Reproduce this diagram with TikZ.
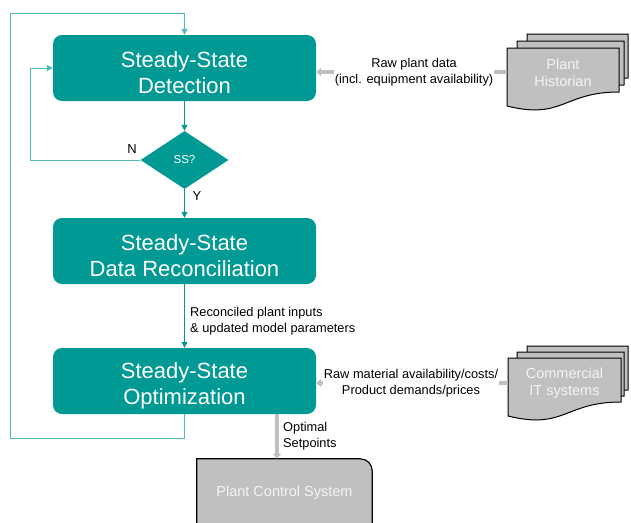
\documentclass[tikz,border=0pt]{standalone}
\usepackage{fontspec}
\setmainfont{Liberation Sans}
\usetikzlibrary{shapes.geometric,arrows.meta,backgrounds}
\definecolor{teala}{RGB}{0,153,148}
\definecolor{tealb}{RGB}{80,188,183}
\definecolor{grarrow}{RGB}{191,191,191}
\definecolor{docfill}{RGB}{192,192,192}
\definecolor{doctext}{RGB}{244,244,244}
\newcommand\docshape[3]{\filldraw[docstyle] (#1,#2) -- ({#1+#3},#2) -- ({#1+#3},{#2+44}) .. controls ({#1+#3*0.5},{#2+44}) and ({#1+#3*0.5},{#2+72}) .. (#1,{#2+58}) -- cycle;}
\newcommand\boxstrut{\rule{0pt}{26pt}}
\begin{document}
\begin{tikzpicture}[x=1pt,y=-1pt,
  mainbox/.style={rectangle, rounded corners=9pt, fill=teala, text=white, minimum width=263pt, minimum height=66pt, align=center, font=\fontsize{22}{26}\selectfont, inner sep=0pt},
  dec/.style={diamond, fill=teala, text=white, minimum width=88pt, minimum height=58pt, inner sep=0pt, font=\fontsize{11.5}{13}\selectfont},
  flow/.style={draw=teala, line width=1pt, -{Triangle[length=6pt,width=6pt]}},
  looparrow/.style={draw=tealb, line width=1pt, -{Triangle[length=6pt,width=6pt]}},
  grayarrow/.style={draw=grarrow, line width=4pt, -{Triangle[length=5pt,width=8pt]}},
  lbl/.style={font=\fontsize{12.8}{16}\selectfont, text=black, inner sep=1pt},
  yn/.style={font=\fontsize{13}{15}\selectfont, text=black, inner sep=0pt},
  doctxt/.style={text=doctext, font=\fontsize{14.5}{17}\selectfont, align=center, inner sep=0pt},
  docstyle/.style={fill=docfill, draw=black, line width=1pt}]
\useasboundingbox (0,0) rectangle (631,522);

% main nodes
\node[mainbox] (det) at (184.5,68) {\boxstrut Steady-State\\Detection};
\node[dec] (ss) at (184.5,160) {SS?};
\node[mainbox] (rec) at (184.5,251) {\boxstrut Steady-State\\Data Reconciliation};
\node[mainbox] (opt) at (184.5,381) {\boxstrut Steady-State\\Optimization};

% loops
\coordinate (l1) at (10,438);
\coordinate (l2) at (10,13);
\coordinate (l3) at (184.5,13);
\draw[looparrow] (opt.south) |- (l1) -- (l2) -- (l3) -- (det.north);
\coordinate (n1) at (30,160);
\coordinate (n2) at (30,68);
\draw[looparrow] (ss.west) -- (n1) -- (n2) -- (det.west);

% flow arrows
\draw[flow] (det.south) -- (ss.north);
\draw[flow] (ss.south) -- (rec.north);
\draw[flow] (rec.south) -- (opt.north);
\node[yn] (nlab) at (132,149) {N};
\node[yn] (ylab) at (197,196) {Y};
\node[lbl, anchor=west, align=left] (reclab) at (189,321) {Reconciled plant inputs\\\& updated model parameters};

% plant historian documents
\docshape{527}{34}{101}
\docshape{517}{41}{107}
\docshape{507}{48}{112}
\node[doctxt, minimum width=112pt] (hist) at (563,73) {Plant\\Historian};
\draw[grayarrow] (hist.west |- 0,72) -- (det.east |- 0,72);
\node[lbl, fill=white, align=center] (histlab) at (414,72) {Raw plant data\\(incl. equipment availability)};

% commercial IT systems documents
\docshape{527}{346}{101}
\docshape{517}{352}{107}
\docshape{508}{358}{113}
\node[doctxt, minimum width=113pt] (comm) at (564.5,383) {Commercial\\IT systems};
\draw[grayarrow] (comm.west) -- (comm.west -| opt.east);
\node[lbl, fill=white, align=center] (commlab) at (411,383) {Raw material availability/costs/\\Product demands/prices};

% plant control system
\node[doctxt, minimum width=175pt, minimum height=68pt] (pcs) at (284.5,493) {Plant Control System};
\begin{scope}[on background layer]
\filldraw[docstyle, line width=1.2pt] (pcs.south west) -- (pcs.north west) -- ([xshift=-12pt]pcs.north east) arc[start angle=90, end angle=0, radius=12pt] -- (pcs.south east) -- cycle;
\end{scope}
\draw[grayarrow] ([xshift=92.5pt]opt.south) -- ([xshift=92.5pt]opt.south |- pcs.north);
\node[lbl, anchor=west, align=left] (optlab) at (282,436) {Optimal\\Setpoints};
\end{tikzpicture}
\end{document}
